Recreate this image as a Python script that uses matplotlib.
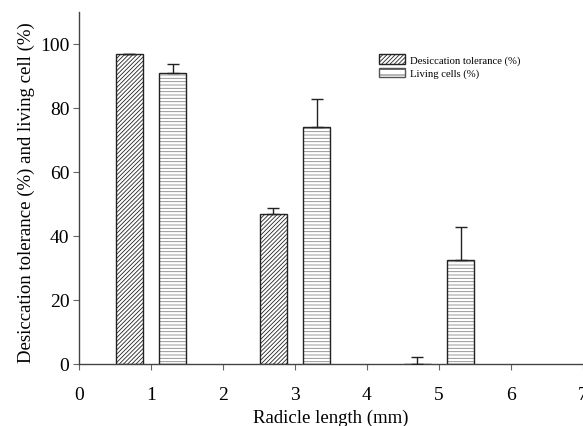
import matplotlib
matplotlib.use("Agg")
import matplotlib.pyplot as plt
import numpy as np
from matplotlib.patches import Patch

plt.rcParams['font.family'] = ['Liberation Serif', 'DejaVu Serif']
plt.rcParams['hatch.linewidth'] = 0.6

radicle_length = [1, 3, 5]
desiccation = [97.0, 47.0, 0.0]
desiccation_err = [0.0, 1.9, 2.1]
living = [91.0, 74.2, 32.5]
living_err = [2.7, 8.5, 10.3]
labels = ["Desiccation tolerance (%)", "Living cells (%)"]

fig = plt.figure(figsize=(5.83, 4.27), dpi=100)
ax = fig.add_axes([0.1355, 0.1452, 0.8645, 0.8244])

x = np.array(radicle_length, dtype=float)
off = 0.3
w = 0.37

ax.bar(x - off, desiccation, width=w, facecolor='white', edgecolor='#222222',
       hatch='////////', linewidth=1.0, label=labels[0], zorder=2)
ax.bar(x + off, living, width=w, facecolor='white', edgecolor='#888888',
       hatch='-----', linewidth=0, zorder=2)
ax.bar(x + off, living, width=w, facecolor='none', edgecolor='#222222',
       linewidth=1.0, zorder=3)

ax.errorbar(x - off, desiccation, yerr=[np.zeros(3), desiccation_err], fmt='none',
            ecolor='#222222', elinewidth=1.0, capsize=4, capthick=1.0, zorder=4)
ax.errorbar(x + off, living, yerr=[np.zeros(3), living_err], fmt='none',
            ecolor='#222222', elinewidth=1.0, capsize=4, capthick=1.0, zorder=4)

h1 = Patch(facecolor='white', edgecolor='#222222', hatch='////////', linewidth=1.0)
h2 = Patch(facecolor='white', edgecolor='#555555', hatch='---', linewidth=1.0)
ax.legend([h1, h2], labels, loc='upper left', bbox_to_anchor=(0.585, 0.895),
          frameon=False, prop={'size': 7.7}, handlelength=2.4, handleheight=1.0,
          borderpad=0, labelspacing=0.25, handletextpad=0.5)

ax.set_xlim(0, 7)
ax.set_ylim(0, 110)
ax.set_xticks(range(0, 8))
ax.set_yticks(range(0, 101, 20))

for s in ['top', 'right']:
    ax.spines[s].set_visible(False)
for s in ['left', 'bottom']:
    ax.spines[s].set_color('#444444')
    ax.spines[s].set_linewidth(1.0)

ax.tick_params(axis='x', direction='out', length=4, width=0.8, color='#666666',
               pad=12, labelsize=14)
ax.tick_params(axis='y', direction='out', length=4, width=0.8, color='#666666',
               pad=3, labelsize=14)

ax.set_ylabel("Desiccation tolerance (%) and living cell (%)", fontsize=13.5)
ax.yaxis.set_label_coords(-0.088, 0.489)
ax.set_xlabel("Radicle length (mm)", fontsize=13.5)
ax.xaxis.set_label_coords(0.5, -0.128)

fig.savefig("out.png", dpi=100)
